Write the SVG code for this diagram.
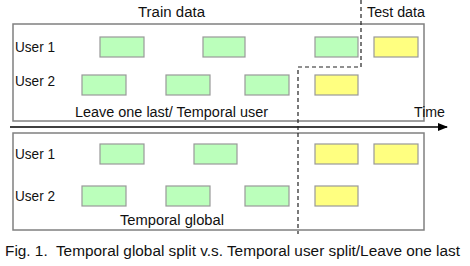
<svg xmlns="http://www.w3.org/2000/svg" width="470" height="266" viewBox="0 0 470 266">
<defs>
<style>
text{font-family:"Liberation Sans",Arial,sans-serif;font-size:14px;fill:#111}
.frame{fill:none;stroke:#808080;stroke-width:1.5}
.g{fill:#bbffbb;stroke:#999;stroke-width:1.2}
.y{fill:#ffff80;stroke:#999;stroke-width:1.2}
.dash{fill:none;stroke:#222;stroke-width:1.2;stroke-dasharray:4 3}
</style>
<marker id="ah" markerWidth="10" markerHeight="8" refX="9" refY="4" orient="auto" markerUnits="userSpaceOnUse">
<path d="M0,0 L10,4 L0,8 Z" fill="#000"/>
</marker>
</defs>
<rect width="470" height="266" fill="#fff"/>
<g id="top-panel">
<rect class="frame" x="13" y="24" width="411" height="97"/>
<text x="138" y="17" textLength="67" lengthAdjust="spacingAndGlyphs">Train data</text>
<text x="15" y="52" textLength="40" lengthAdjust="spacingAndGlyphs">User 1</text>
<text x="15" y="86" textLength="40" lengthAdjust="spacingAndGlyphs">User 2</text>
<text x="75" y="117" textLength="193" lengthAdjust="spacingAndGlyphs">Leave one last/ Temporal user</text>
</g>
<g id="top-u1-1"><rect class="g" x="100" y="37" width="44" height="20"/></g>
<g id="top-u1-2"><rect class="g" x="203" y="37" width="42" height="20"/></g>
<g id="top-u1-3"><rect class="g" x="315" y="37" width="43" height="20"/></g>
<g id="top-u1-4"><rect class="y" x="374" y="37" width="44" height="20"/></g>
<g id="top-u2-1"><rect class="g" x="82" y="75" width="44" height="20"/></g>
<g id="top-u2-2"><rect class="g" x="166" y="75" width="44" height="20"/></g>
<g id="top-u2-3"><rect class="g" x="245" y="75" width="44" height="20"/></g>
<g id="top-u2-4"><rect class="y" x="315" y="75" width="43" height="20"/></g>
<g id="test-label"><text x="367" y="17" textLength="58" lengthAdjust="spacingAndGlyphs">Test data</text></g>
<g id="bottom-panel">
<rect class="frame" x="13" y="133" width="411" height="97"/>
<text x="15" y="159" textLength="40" lengthAdjust="spacingAndGlyphs">User 1</text>
<text x="15" y="201" textLength="40" lengthAdjust="spacingAndGlyphs">User 2</text>
<text x="120" y="225" textLength="104" lengthAdjust="spacingAndGlyphs">Temporal global</text>
</g>
<g id="bot-u1-1"><rect class="g" x="100" y="144" width="44" height="20"/></g>
<g id="bot-u1-2"><rect class="g" x="194" y="144" width="43" height="20"/></g>
<g id="bot-u1-3"><rect class="y" x="315" y="144" width="43" height="20"/></g>
<g id="bot-u1-4"><rect class="y" x="374" y="144" width="44" height="20"/></g>
<g id="bot-u2-1"><rect class="g" x="82" y="186" width="44" height="20"/></g>
<g id="bot-u2-2"><rect class="g" x="166" y="186" width="44" height="20"/></g>
<g id="bot-u2-3"><rect class="g" x="245" y="186" width="44" height="20"/></g>
<g id="bot-u2-4"><rect class="y" x="315" y="186" width="43" height="20"/></g>
<g id="time-axis">
<text x="414" y="117" textLength="31" lengthAdjust="spacingAndGlyphs">Time</text>
</g>
<g id="connectors">
<line x1="10" y1="127" x2="447" y2="127" stroke="#000" stroke-width="1.5" marker-end="url(#ah)"/>
<path class="dash" d="M361,0 V67 H298 V234"/>
</g>
<g id="caption">
<text x="5" y="256" textLength="455" lengthAdjust="spacingAndGlyphs">Fig. 1.&#160; Temporal global split v.s. Temporal user split/Leave one last</text>
</g>
</svg>
